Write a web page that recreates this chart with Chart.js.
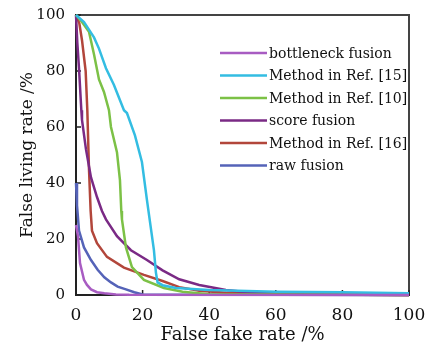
<!DOCTYPE html>
<html><head><meta charset="utf-8">
<script src="https://cdn.jsdelivr.net/npm/chart.js@4"></script>
<style>html,body{margin:0;padding:0;background:#fff}</style>
</head><body>
<canvas id="c" width="440" height="350"></canvas>
<script>
// ---- data ----
const seriesNames = ["bottleneck fusion","Method in Ref. [15]","Method in Ref. [10]","score fusion","Method in Ref. [16]","raw fusion"];
const seriesColors = ["#a85cc2","#33bde2","#7cc146","#7a2a85","#b2463b","#5563b8"];

const bottleneckX = [0, 0.6, 1.2, 2.4, 3.3, 4.5, 6.3, 8.5, 12, 16, 100];
const bottleneckY = [25, 21, 11.4, 5.4, 3.6, 2, 1, 0.6, 0.2, 0.05, 0];

const ref15X = [0, 2.4, 5.4, 6.9, 9, 11.4, 14.4, 15.3, 17.7, 19.8, 21.3, 22, 23.4, 24, 24.5, 26, 30, 40, 60, 80, 100];
const ref15Y = [100, 97.5, 92, 88, 81, 75, 66, 65, 57, 47.5, 34, 28, 16, 8, 4.5, 3.5, 2.5, 1.8, 1.2, 1, 0.6];

const ref10X = [0, 1.8, 3.9, 5.4, 6.9, 8.4, 9.9, 10.5, 12.3, 13.2, 13.6, 13.8, 15, 16.8, 20.4, 26.4, 32, 40, 100];
const ref10Y = [100, 97.5, 94, 86, 77, 72.5, 66, 60, 51, 41, 30, 27, 17, 10, 5.4, 2.5, 1.2, 0.3, 0];

const scoreX = [0, 0.4, 0.9, 1.6, 1.8, 3, 4.5, 6.3, 7.8, 9, 12.3, 16.5, 21.3, 26, 31, 37, 45, 53, 60, 70, 100];
const scoreY = [100, 90, 81, 66, 62.5, 52, 42, 35, 30, 27, 21, 16, 12.5, 8.8, 5.6, 3.6, 1.8, 0.8, 0.5, 0.2, 0];

const ref16X = [0, 1, 1.8, 2.9, 3.4, 3.9, 4.4, 4.8, 6.3, 9.3, 14.4, 20.4, 26, 31, 37, 45, 60, 100];
const ref16Y = [100, 97, 91, 80, 66, 45, 30, 23, 18.5, 13.6, 9.8, 7.2, 5, 2.8, 1.5, 0.8, 0.3, 0];

const rawX = [0, 0.3, 0.9, 2.4, 4.5, 6.5, 8.5, 10.5, 12.5, 15, 17.5, 20, 100];
const rawY = [40, 32, 23, 17, 12.5, 9, 6.3, 4.5, 3, 2, 1, 0.2, 0];

const xTicks = [0, 20, 40, 60, 80, 100];
const yTicks = [0, 20, 40, 60, 80, 100];
const xTitle = "False fake rate /%";
const yTitle = "False living rate /%";

// ---- build ----
const seriesX = [bottleneckX, ref15X, ref10X, scoreX, ref16X, rawX];
const seriesY = [bottleneckY, ref15Y, ref10Y, scoreY, ref16Y, rawY];
const datasets = seriesNames.map((name, i) => ({
  label: name,
  data: seriesX[i].map((x, j) => ({x: x, y: seriesY[i][j]})),
  borderColor: seriesColors[i],
  backgroundColor: seriesColors[i],
  borderWidth: 2.5,
  pointRadius: 0,
  tension: 0,
  clip: false
}));

const serif = "'DejaVu Serif', 'Liberation Serif', serif";

const frame = {
  id: 'frame',
  beforeDatasetsDraw(chart) {
    const {ctx, chartArea: a, scales} = chart;
    ctx.save();
    ctx.strokeStyle = '#444';
    ctx.lineWidth = 2;
    ctx.beginPath();
    ctx.moveTo(a.left, a.top);
    ctx.lineTo(a.right, a.top);
    ctx.lineTo(a.right, a.bottom);
    ctx.stroke();
    // inward tick marks
    ctx.strokeStyle = '#222';
    ctx.lineWidth = 1.5;
    ctx.beginPath();
    xTicks.forEach(v => {
      const px = scales.x.getPixelForValue(v);
      ctx.moveTo(px, a.bottom);
      ctx.lineTo(px, a.bottom - 5);
    });
    yTicks.forEach(v => {
      const py = scales.y.getPixelForValue(v);
      ctx.moveTo(a.left, py);
      ctx.lineTo(a.left + 5, py);
    });
    ctx.stroke();
    ctx.restore();
  }
};

const insideLegend = {
  id: 'insideLegend',
  afterDatasetsDraw(chart) {
    const {ctx, chartArea: a} = chart;
    ctx.save();
    ctx.font = "14px " + serif;
    ctx.textBaseline = 'middle';
    ctx.textAlign = 'left';
    chart.data.datasets.forEach((ds, i) => {
      const y = a.top + 38 + i * 22.5;
      const x0 = a.left + 144;
      ctx.strokeStyle = ds.borderColor;
      ctx.lineWidth = 2.5;
      ctx.beginPath();
      ctx.moveTo(x0, y);
      ctx.lineTo(x0 + 47, y);
      ctx.stroke();
      ctx.fillStyle = '#111';
      ctx.fillText(ds.label, x0 + 49, y + 1);
    });
    ctx.restore();
  }
};

new Chart(document.getElementById('c'), {
  type: 'line',
  data: { datasets },
  options: {
    responsive: false,
    animation: false,
    layout: { padding: { left: 0, top: 15, right: 31, bottom: 0 } },
    plugins: { legend: { display: false }, tooltip: { enabled: false } },
    scales: {
      x: {
        type: 'linear', min: 0, max: 100,
        afterBuildTicks: s => { s.ticks = xTicks.map(v => ({value: v})); },
        afterFit: s => { s.height = 55; s.paddingLeft = 0; s.paddingRight = 0; },
        ticks: { color: '#111', font: { family: serif, size: 17 }, padding: 10, maxRotation: 0 },
        grid: { drawOnChartArea: false, drawTicks: false },
        border: { color: '#222', width: 2 },
        title: { display: true, text: xTitle, color: '#111', font: { family: serif, size: 18, lineHeight: 1.2 }, padding: { top: 0, bottom: 4 } }
      },
      y: {
        type: 'linear', min: 0, max: 100,
        afterBuildTicks: s => { s.ticks = yTicks.map(v => ({value: v})); },
        afterFit: s => { s.width = 76; s.paddingTop = 0; s.paddingBottom = 0; },
        ticks: { color: '#111', font: { family: serif, size: 15 }, padding: 11 },
        grid: { drawOnChartArea: false, drawTicks: false },
        border: { color: '#222', width: 2 },
        title: { display: true, text: yTitle, color: '#111', font: { family: serif, size: 17, lineHeight: 1.2 }, padding: { top: 17, bottom: 0 } }
      }
    }
  },
  plugins: [frame, insideLegend]
});
</script>
</body></html>
